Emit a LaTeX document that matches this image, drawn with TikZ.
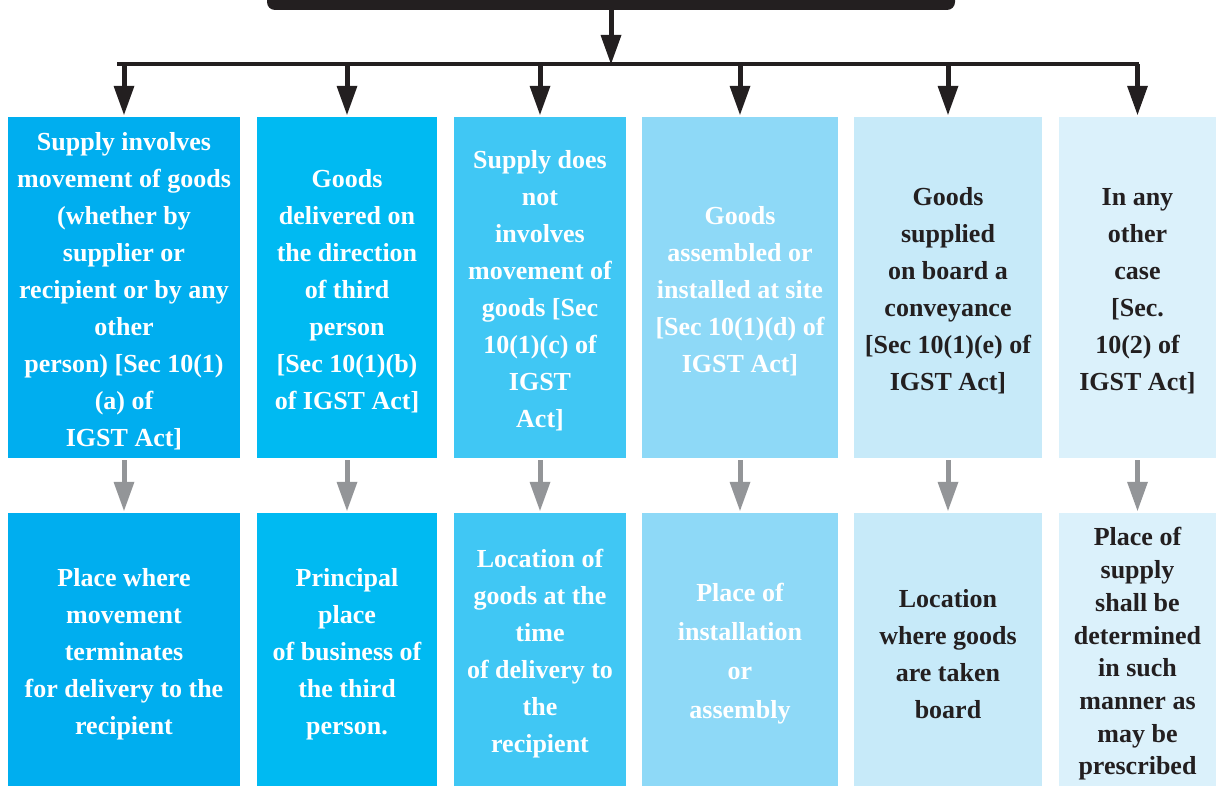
\documentclass[tikz,border=0pt]{standalone}
\usepackage{fontspec}
\setmainfont{Liberation Serif}
\usetikzlibrary{arrows.meta}
\definecolor{barblack}{RGB}{35,31,32}
\definecolor{arrgray}{RGB}{147,149,152}
\definecolor{case1}{RGB}{0,174,239}
\definecolor{case2}{RGB}{0,186,242}
\definecolor{case3}{RGB}{64,199,244}
\definecolor{case4}{RGB}{142,217,247}
\definecolor{case5}{RGB}{199,234,249}
\definecolor{case6}{RGB}{219,241,251}

\begin{document}
\begin{tikzpicture}[x=1pt,y=-1pt,
  casebox/.style={inner sep=0pt,align=center},
  blackarr/.style={draw=barblack,line width=5pt,-{Triangle[length=29pt,width=21pt,line width=0pt]}},
  grayarr/.style={draw=arrgray,line width=5pt,-{Triangle[length=29pt,width=21pt,line width=0pt]}}]
\useasboundingbox (0,0) rectangle (1216,786);
% heading bar (its text lies above the page)
\node[fill=barblack,rounded corners=8pt,minimum width=688pt,minimum height=30pt,inner sep=0pt] (title) at (611,-5) {};
\coordinate (hub) at (611,64);
\coordinate (hl) at (117,64);
\coordinate (hr) at (1139,64);
\draw[blackarr] (title.south) -- (hub);
\draw[barblack,line width=4pt] (hl) -- (hr);
% six cases: x centre / width / text colour / bottom line skip / case / place of supply
\foreach \cx/\bw/\tcol/\bskip/\toptxt/\bottxt [count=\i] in {
124/232/white/37/{Supply involves\\movement of goods\\(whether by\\supplier or\\recipient or by any\\other\\person) [Sec 10(1)\\(a) of\\IGST Act]}/{Place where\\movement\\terminates\\for delivery to the\\recipient},
347/180/white/37/{Goods\\delivered on\\the direction\\of third\\person\\{[}Sec 10(1)(b)\\of IGST Act]}/{Principal\\place\\of business of\\the third\\person.},
540/172.5/white/37/{Supply does\\not\\involves\\movement of\\goods [Sec\\10(1)(c) of\\IGST\\Act]}/{Location of\\goods at the\\time\\of delivery to\\the\\recipient},
740/196/white/39/{Goods\\assembled or\\installed at site\\{[}Sec 10(1)(d) of\\IGST Act]}/{Place of\\installation\\or\\assembly},
948/187.5/barblack/37/{Goods\\supplied\\on board a\\conveyance\\{[}Sec 10(1)(e) of\\IGST Act]}/{Location\\where goods\\are taken\\board},
1137.5/158/barblack/32.7/{In any\\other\\case\\{[}Sec.\\10(2) of\\IGST Act]}/{Place of\\supply\\shall be\\determined\\in such\\manner as\\may be\\prescribed}}{
\node[fill=case\i,minimum width=\bw pt,minimum height=341pt,inner sep=0pt] (top\i) at (\cx,287.5) {};
\node[fill=case\i,minimum width=\bw pt,minimum height=280pt,inner sep=0pt] (bot\i) at (\cx,653) {};
\node[casebox,text=\tcol,font=\bfseries\fontsize{26}{37}\selectfont] (case\i) at (\cx,291) {\toptxt};
\node[casebox,text=\tcol,font=\bfseries\fontsize{26}{\bskip}\selectfont] (place\i) at (\cx,654) {\bottxt};
\coordinate (drop\i) at (\cx,64);
\draw[blackarr,shorten >=2pt] (drop\i) -- (top\i.north);
\draw[grayarr,shorten <=2pt,shorten >=2pt] (top\i.south) -- (bot\i.north);
}
\end{tikzpicture}
\end{document}
